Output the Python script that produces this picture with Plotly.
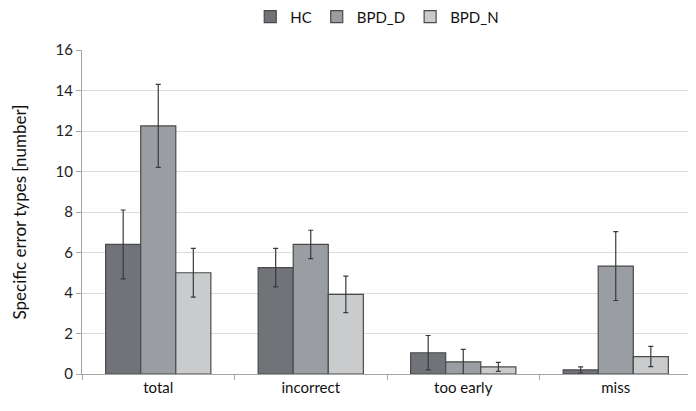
import plotly.graph_objects as go

categories = ["total", "incorrect", "too early", "miss"]
series_names = ["HC", "BPD_D", "BPD_N"]
hc = [6.4, 5.25, 1.05, 0.2]
hc_err = [1.7, 0.95, 0.85, 0.15]
bpd_d = [12.25, 6.4, 0.6, 5.33]
bpd_d_err = [2.05, 0.7, 0.62, 1.7]
bpd_n = [5.0, 3.93, 0.35, 0.86]
bpd_n_err = [1.2, 0.9, 0.22, 0.5]
y_ticks = [0, 2, 4, 6, 8, 10, 12, 14, 16]

colors = ["#707378", "#9a9da1", "#c9cbcd"]
values = [hc, bpd_d, bpd_n]
errors = [hc_err, bpd_d_err, bpd_n_err]

fig = go.Figure()
for name, vals, errs, col in zip(series_names, values, errors, colors):
    fig.add_trace(go.Bar(
        x=categories, y=vals, name=name,
        marker=dict(color=col, line=dict(color="#4a4a4a", width=1.2)),
        error_y=dict(type="data", array=errs, visible=True,
                     color="#3a3a3a", thickness=1.2, width=2.5),
    ))

# page body has an 8px margin in the browser, so the figure is sized/offset to compensate
font_family = "Lato, 'Open Sans', sans-serif"
fig.update_layout(
    width=688, height=403,
    barmode="group", bargap=0.31, bargroupgap=0,
    plot_bgcolor="white", paper_bgcolor="white",
    margin=dict(l=74, r=4, t=42, b=37, autoexpand=False),
    font=dict(family=font_family, size=15, color="#222222"),
    legend=dict(orientation="h", x=0.484, y=1.102, xanchor="center", yanchor="middle",
                font=dict(size=15, color="#111111"), itemwidth=30,
                traceorder="normal", tracegroupgap=0),
    showlegend=True,
)
fig.update_xaxes(
    showline=True, linecolor="#a6a6a6", linewidth=1,
    ticks="outside", tickson="boundaries", ticklen=5, tickcolor="#a6a6a6",
    showgrid=False, tickfont=dict(size=15, color="#111111"),
)
fig.update_yaxes(
    range=[0, 16], tickvals=y_ticks,
    showline=True, linecolor="#a6a6a6", linewidth=1,
    ticks="outside", ticklen=5, tickcolor="#a6a6a6",
    showgrid=True, gridcolor="#dcdcdc", gridwidth=1.2,
    zeroline=False,
    tickfont=dict(size=15, color="#222222"),
    title=dict(text="Specific error types [number]", font=dict(size=17, color="#111111"), standoff=24),
)
fig.write_html("out.html")
